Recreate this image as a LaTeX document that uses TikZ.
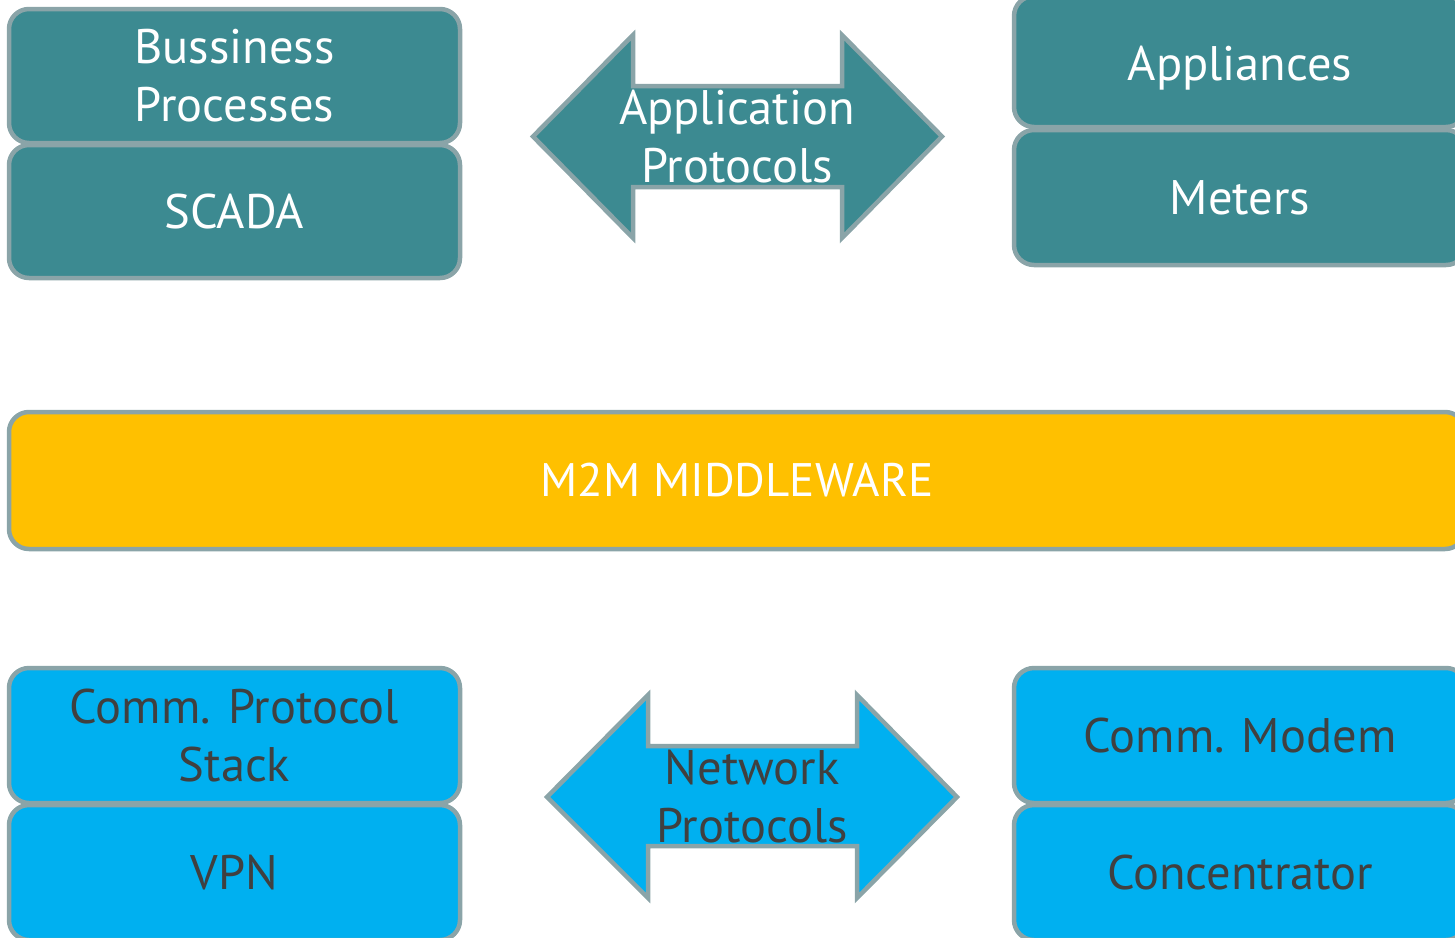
\documentclass[tikz,border=0pt]{standalone}
\usepackage{fontspec}
\setmainfont{PT Sans}
\definecolor{teal1}{HTML}{3C8A91}
\definecolor{edge1}{HTML}{8AA4A8}
\definecolor{gold1}{HTML}{FFC000}
\definecolor{sky1}{HTML}{00B0F0}
\definecolor{ink1}{HTML}{404040}
\tikzset{
  box/.style={draw=edge1, line width=4.5pt, rounded corners=20pt, inner sep=0pt, align=center,
    font=\fontsize{48.5}{58}\selectfont},
  tealbox/.style={box, fill=teal1, text=white},
  skybox/.style={box, fill=sky1, text=ink1},
  goldbox/.style={box, fill=gold1, text=white, font=\fontsize{47}{58}\selectfont},
  arr/.style={draw=edge1, line width=4.5pt, line join=miter},
  arrtext/.style={align=center, inner sep=0pt, font=\fontsize{48.5}{58}\selectfont},
}
\begin{document}
\begin{tikzpicture}[x=1pt,y=-1pt]
\useasboundingbox (0,0) rectangle (1455,937);
\clip (0,0) rectangle (1455,937);
% top left stack
\node[tealbox, minimum width=451pt, minimum height=134pt] (bp) at (234.5,76) {Bussiness\\Processes};
\node[tealbox, minimum width=451pt, minimum height=133pt] (scada) at (234.5,211.5) {SCADA};
% top right stack
\node[tealbox, minimum width=452pt, minimum height=131pt] (appl) at (1240,61.5) {};
\node[text=white, inner sep=0pt, font=\fontsize{48.5}{58}\selectfont, anchor=base] (appltext) at (1240,80) {Appliances};
\node[tealbox, minimum width=452pt, minimum height=135pt] (meters) at (1240,197.5) {Meters};
% middleware
\node[goldbox, minimum width=1456pt, minimum height=137pt] (m2m) at (737,480.5) {M2M MIDDLEWARE};
% bottom left stack
\node[skybox, minimum width=451pt, minimum height=135pt] (cps) at (234.5,735.5) {Comm. Protocol\\Stack};
\node[skybox, minimum width=451pt, minimum height=135pt] (vpn) at (234.5,872.5) {VPN};
% bottom right stack
\node[skybox, minimum width=452pt, minimum height=135pt] (modem) at (1240,735.5) {Comm. Modem};
\node[skybox, minimum width=452pt, minimum height=135pt] (conc) at (1240,872.5) {Concentrator};
% application protocols arrow
\path[arr, fill=teal1] (533,136.5) -- (633,35) -- (633,86) -- (842,86) -- (842,35) -- (942,136.5)
  -- (842,238) -- (842,187) -- (633,187) -- (633,238) -- cycle;
\node[arrtext, text=white] (ap) at (737,137) {Application\\Protocols};
% network protocols arrow
\path[arr, fill=sky1] (547,797) -- (648,695) -- (648,746) -- (857,746) -- (857,695) -- (957,797)
  -- (857,898) -- (857,846) -- (648,846) -- (648,898) -- cycle;
\node[arrtext, text=ink1] (np) at (752,797) {Network\\Protocols};
\end{tikzpicture}
\end{document}
